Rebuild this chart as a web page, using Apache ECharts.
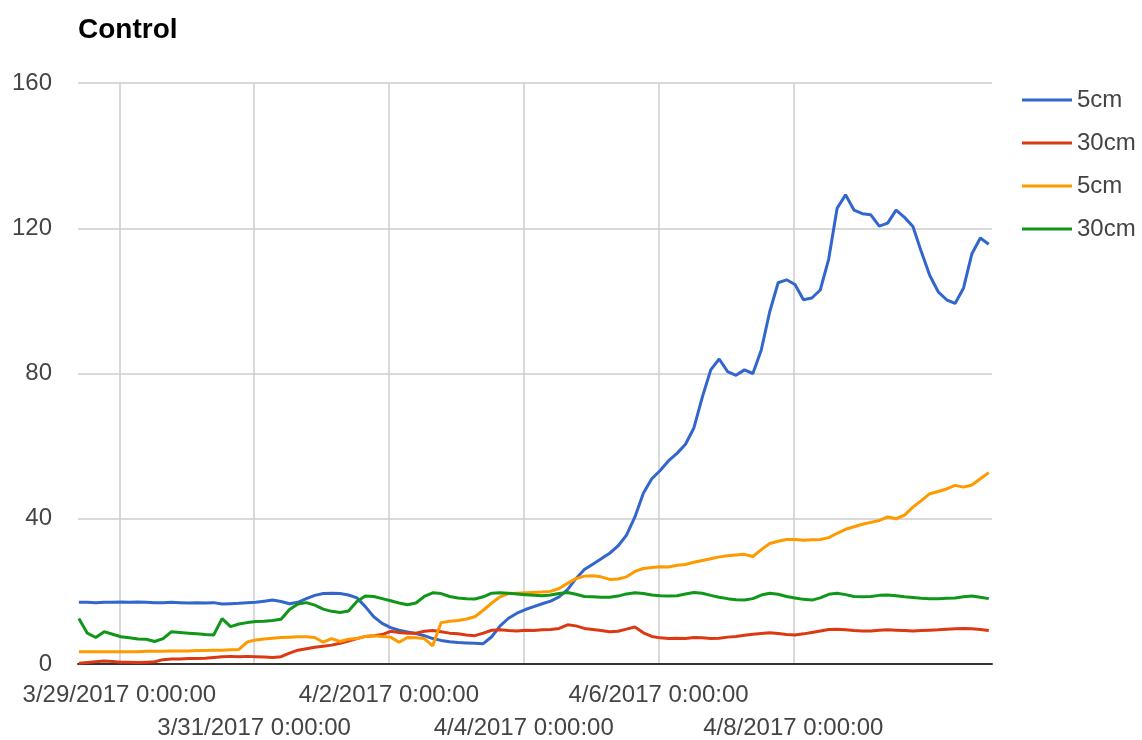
<!DOCTYPE html>
<html>
<head>
<meta charset="utf-8">
<title>Control</title>
<script src="https://cdn.jsdelivr.net/npm/echarts@6/dist/echarts.min.js"></script>
<style>
  html, body { margin: 0; padding: 0; background: #fff; }
  #main { width: 1142px; height: 740px; }
</style>
</head>
<body>
<div id="main"></div>
<script>
// x is measured in days from 3/29/2017 0:00:00
// readings every 3 hours, starting 3/28 09:36
var startOffset = -0.6;
var stepDays = 0.125;

var seriesLabels = ['5cm', '30cm', '5cm', '30cm'];
var seriesColors = ['#3366cc', '#dc3912', '#ff9900', '#109618'];

var tickDays = [0, 2, 4, 6, 8, 10];
var tickLabels = ['3/29/2017 0:00:00', '3/31/2017 0:00:00', '4/2/2017 0:00:00',
                  '4/4/2017 0:00:00', '4/6/2017 0:00:00', '4/8/2017 0:00:00'];

var blue5 = [
  17.0, 17.0, 16.9, 17.0, 17.0, 17.1, 17.0, 17.1, 17.0, 16.9, 16.9, 17.0,
  16.9, 16.8, 16.9, 16.8, 16.9, 16.5, 16.6, 16.7, 16.9, 17.0, 17.3, 17.6,
  17.2, 16.6, 17.0, 18.0, 18.9, 19.4, 19.5, 19.4, 19.0, 18.2, 15.8, 13.0,
  11.2, 10.0, 9.3, 8.8, 8.4, 7.8, 7.0, 6.5, 6.1, 5.9, 5.8, 5.7,
  5.6, 7.5, 10.5, 12.6, 14.0, 15.0, 15.8, 16.6, 17.3, 18.5, 20.5, 23.5,
  26.0, 27.5, 29.0, 30.5, 32.5, 35.5, 40.5, 47.0, 51.0, 53.3, 56.0, 58.0,
  60.5, 65.0, 73.5, 81.0, 84.0, 80.5, 79.5, 81.0, 80.0, 86.5, 97.0, 105.0,
  105.8, 104.5, 100.3, 100.8, 103.0, 111.5, 125.5, 129.2, 125.0, 124.0, 123.7, 120.6,
  121.4, 125.0, 123.0, 120.5, 113.5, 107.0, 102.5, 100.3, 99.3, 103.5, 113.0, 117.3,
  115.6
];

var red30 = [
  0.2, 0.4, 0.6, 0.8, 0.7, 0.5, 0.5, 0.4, 0.5, 0.6, 1.2, 1.4,
  1.4, 1.5, 1.5, 1.6, 1.8, 2.0, 2.1, 2.0, 2.1, 2.0, 1.9, 1.8,
  2.0, 3.0, 3.8, 4.2, 4.6, 4.9, 5.2, 5.7, 6.3, 7.0, 7.6, 7.8,
  8.1, 9.0, 8.7, 8.5, 8.5, 9.0, 9.2, 8.9, 8.5, 8.3, 8.0, 7.8,
  8.5, 9.3, 9.4, 9.2, 9.1, 9.3, 9.2, 9.4, 9.5, 9.8, 10.8, 10.5,
  9.8, 9.5, 9.2, 8.9, 9.0, 9.6, 10.2, 8.6, 7.6, 7.2, 7.0, 7.1,
  7.0, 7.3, 7.2, 7.0, 7.1, 7.4, 7.6, 7.9, 8.2, 8.4, 8.6, 8.4,
  8.1, 8.0, 8.3, 8.7, 9.1, 9.5, 9.6, 9.4, 9.2, 9.1, 9.1, 9.3,
  9.4, 9.3, 9.2, 9.1, 9.2, 9.3, 9.4, 9.6, 9.7, 9.8, 9.7, 9.5,
  9.2
];

var orange5 = [
  3.4, 3.4, 3.4, 3.4, 3.4, 3.4, 3.4, 3.4, 3.5, 3.5, 3.5, 3.6,
  3.6, 3.6, 3.7, 3.7, 3.8, 3.8, 3.9, 4.0, 6.1, 6.6, 6.9, 7.1,
  7.3, 7.4, 7.5, 7.5, 7.3, 6.0, 7.0, 6.2, 6.8, 7.0, 7.6, 7.8,
  7.6, 7.4, 6.0, 7.3, 7.2, 7.0, 5.0, 11.4, 11.8, 12.0, 12.4, 13.0,
  14.8, 16.8, 18.5, 19.4, 19.5, 19.6, 19.7, 19.8, 20.0, 20.8, 22.2, 23.5,
  24.2, 24.3, 24.0, 23.3, 23.4, 24.0, 25.5, 26.3, 26.6, 26.8, 26.7, 27.2,
  27.4, 28.0, 28.5, 29.0, 29.5, 29.8, 30.0, 30.2, 29.6, 31.5, 33.2, 33.8,
  34.3, 34.3, 34.1, 34.2, 34.3, 34.8, 36.0, 37.1, 37.8, 38.5, 39.0, 39.5,
  40.5, 40.0, 41.0, 43.2, 45.0, 46.9, 47.5, 48.2, 49.2, 48.7, 49.3, 51.0,
  52.7
];

var green30 = [
  12.5, 8.5, 7.3, 8.9, 8.2, 7.5, 7.2, 6.9, 6.8, 6.2, 7.0, 8.9,
  8.7, 8.5, 8.3, 8.1, 8.0, 12.5, 10.3, 11.0, 11.4, 11.7, 11.8, 12.0,
  12.3, 15.0, 16.5, 16.9, 16.2, 15.1, 14.5, 14.2, 14.6, 17.2, 18.7, 18.6,
  18.0, 17.4, 16.8, 16.3, 16.8, 18.6, 19.6, 19.4, 18.6, 18.2, 18.0, 17.9,
  18.5, 19.5, 19.6, 19.5, 19.3, 19.1, 18.9, 18.8, 19.0, 19.4, 19.7, 19.2,
  18.6, 18.5, 18.4, 18.4, 18.7, 19.3, 19.6, 19.4, 19.0, 18.8, 18.7, 18.8,
  19.3, 19.7, 19.5, 18.9, 18.4, 18.0, 17.7, 17.6, 18.0, 19.0, 19.5, 19.2,
  18.6, 18.2, 17.8, 17.6, 18.2, 19.2, 19.5, 19.1, 18.6, 18.5, 18.6, 18.9,
  19.0, 18.8, 18.5, 18.3, 18.1, 18.0, 18.0, 18.1, 18.2, 18.5, 18.7, 18.4,
  18.0
];

var font = 'Arial, "Liberation Sans", sans-serif';

function toPairs(values) {
    var out = [];
    for (var i = 0; i < values.length; i++) {
        out.push([startOffset + i * stepDays, values[i]]);
    }
    return out;
}

// staggered labels: even ticks on the first row, odd ticks on the second
var rowOne = tickDays.filter(function (d, i) { return i % 2 === 0; });
var rowTwo = tickDays.filter(function (d, i) { return i % 2 === 1; });

function dayLabel(value) {
    return tickLabels[tickDays.indexOf(Math.round(value))];
}

var myChart = echarts.init(document.getElementById('main'));

var allValues = [blue5, red30, orange5, green30];
var series = allValues.map(function (vals, i) {
    return {
        name: seriesLabels[i] + '#' + i,
        type: 'line',
        xAxisIndex: 0,
        data: toPairs(vals),
        showSymbol: false,
        symbol: 'none',
        color: seriesColors[i],
        lineStyle: { width: 3, color: seriesColors[i] },
        z: 3
    };
});

var labelStyle = { fontFamily: font, fontSize: 24, color: '#444', lineHeight: 34 };

var option = {
    animation: false,
    backgroundColor: '#fff',
    title: {
        text: 'Control',
        left: 73,
        top: 11,
        textStyle: { fontFamily: font, fontSize: 28, fontWeight: 'bold', color: '#000' }
    },
    legend: {
        orient: 'vertical',
        left: 1017,
        top: 83,
        icon: 'rect',
        itemWidth: 50,
        itemHeight: 3,
        itemGap: 19,
        formatter: function (name) { return name.split('#')[0]; },
        textStyle: { fontFamily: font, fontSize: 24, color: '#444', lineHeight: 24 },
        data: series.map(function (s) { return s.name; })
    },
    grid: { left: 78, right: 150, top: 83, bottom: 76, outerBoundsMode: 'none', containLabel: false },
    xAxis: [
        {
            type: 'value',
            position: 'bottom',
            min: -0.613,
            max: 12.948,
            axisLine: { show: true, onZero: false, lineStyle: { color: '#333', width: 2 } },
            axisTick: { show: false, customValues: tickDays },
            splitLine: { show: true, lineStyle: { color: '#cccccc', width: 1.5 } },
            axisLabel: Object.assign({
                customValues: rowOne,
                showMinLabel: true,
                showMaxLabel: true,
                margin: 14,
                formatter: dayLabel
            }, labelStyle)
        },
        {
            type: 'value',
            position: 'bottom',
            offset: 0,
            min: -0.613,
            max: 12.948,
            axisLine: { show: false },
            axisTick: { show: false, customValues: rowTwo },
            splitLine: { show: false },
            axisLabel: Object.assign({
                customValues: rowTwo,
                showMinLabel: true,
                showMaxLabel: true,
                margin: 47,
                formatter: dayLabel
            }, labelStyle)
        }
    ],
    yAxis: {
        type: 'value',
        min: 0,
        max: 160,
        interval: 40,
        axisLine: { show: false },
        axisTick: { show: false },
        splitLine: { lineStyle: { color: '#cccccc', width: 1.5 } },
        axisLabel: { margin: 26, fontFamily: font, fontSize: 24, color: '#444' }
    },
    series: series
};

myChart.setOption(option);
</script>
</body>
</html>
